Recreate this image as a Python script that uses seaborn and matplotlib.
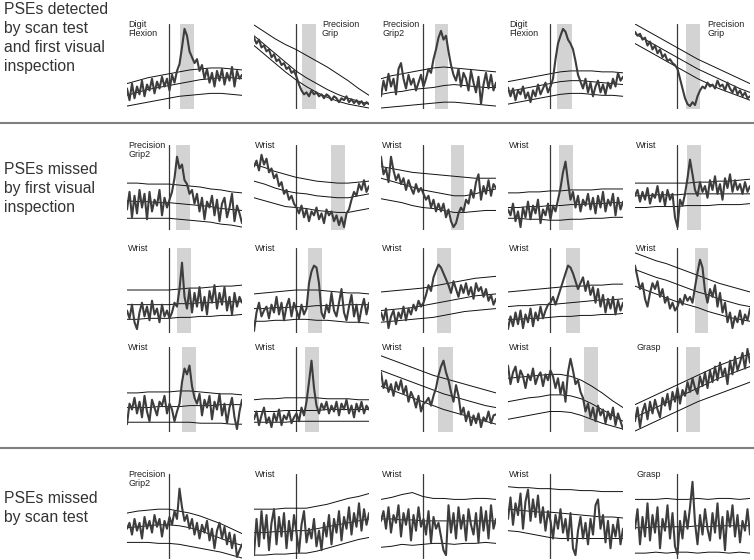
import numpy as np
import matplotlib.pyplot as plt
import seaborn as sns
from matplotlib.lines import Line2D

sns.set_style("white")
plt.rcParams['font.family'] = ['Liberation Sans', 'DejaVu Sans']

# sample times (ms, relative to trigger) for the averaged EMG traces and the band lines
t = np.arange(47) * 2.5 - 42
t_bound = np.linspace(-42, 73, 12)

# ---- row 1: PSEs detected by scan test and first visual inspection
row1_labels = ["Digit\nFlexion", "Precision\nGrip", "Precision\nGrip2", "Digit\nFlexion", "Precision\nGrip"]
row1_windows = [(11, 25), (6, 20), (12, 25), (7, 22), (9, 23)]
row1_trace = [
    [20, 8, 25, 10, 22, 14, 28, 12, 24, 18, 30, 15, 27, 20, 32, 22, 30, 18, 34, 26, 38, 45, 62, 81, 74, 58, 52, 46, 50, 38, 44, 30, 40, 26, 36, 22, 38, 28, 40, 24, 36, 28, 42, 22, 38, 30, 34],
    [72, 66, 70, 62, 64, 58, 60, 52, 55, 48, 50, 44, 46, 40, 42, 36, 38, 32, 24, 18, 14, 16, 12, 18, 14, 16, 12, 14, 10, 14, 12, 8, 12, 10, 6, 10, 8, 12, 6, 9, 5, 8, 4, 7, 3, 6, 4],
    [12, 28, 18, 35, 22, 30, 14, 40, 46, 30, 20, 34, 24, 30, 18, 26, 34, 22, 30, 40, 36, 50, 60, 72, 79, 70, 74, 58, 44, 34, 28, 40, 22, 36, 30, 18, 38, 26, 16, 32, 4, 24, 36, 20, 34, 18, 26],
    [21, 12, 20, 8, 18, 14, 22, 10, 16, 6, 18, 12, 24, 14, 20, 26, 16, 22, 30, 50, 66, 74, 81, 78, 70, 66, 60, 48, 34, 27, 20, 30, 16, 26, 12, 22, 28, 16, 24, 14, 26, 20, 30, 22, 36, 28, 32],
    [78, 74, 76, 70, 72, 64, 68, 60, 64, 56, 60, 52, 55, 48, 50, 46, 44, 40, 30, 20, 10, 4, 2, 6, 3, 12, 18, 22, 20, 26, 22, 24, 20, 28, 22, 24, 18, 26, 20, 16, 22, 14, 18, 12, 16, 10, 12],
]
row1_upper = [[25, 28, 31, 33, 35, 37, 39, 40, 41, 41, 40, 39], [85, 78, 71, 65, 60, 54, 48, 42, 35, 28, 20, 13],
              [30, 33, 35, 37, 39, 41, 42, 41, 40, 39, 38, 37], [27, 29, 31, 33, 35, 37, 38, 38, 38, 37, 37, 36],
              [86, 80, 74, 68, 62, 56, 50, 45, 40, 35, 30, 25]]
row1_mid = [[13, 16, 19, 21, 23, 25, 27, 29, 30, 31, 31, 30], [74, 65, 56, 47, 38, 31, 25, 19, 14, 10, 7, 4],
            [14, 16, 17, 19, 20, 21, 23, 24, 23, 22, 21, 21], [17, 19, 21, 23, 25, 27, 28, 28, 27, 26, 25, 24],
            [76, 70, 64, 58, 52, 46, 40, 35, 30, 25, 20, 16]]
row1_lower = [[2, 4, 6, 8, 10, 12, 13, 14, 15, 15, 14, 13], [64, 55, 46, 37, 29, 22, 16, 11, 7, 4, 2, 0],
              [0, 1, 2, 3, 4, 5, 6, 6, 5, 4, 3, 2], [4, 6, 8, 10, 12, 14, 15, 15, 14, 13, 13, 12],
              [66, 60, 54, 48, 42, 36, 30, 25, 20, 16, 12, 8]]

# ---- rows 2-4: PSEs missed by first visual inspection
row2_labels = ["Precision\nGrip2", "Wrist", "Wrist", "Wrist", "Wrist"]
row2_windows = [(7, 21), (35, 49), (28, 41), (9, 23), (10, 24)]
row2_trace = [
    [20, 38, 12, 34, 16, 40, 22, 36, 10, 38, 18, 30, 24, 40, 14, 32, 22, 30, 38, 52, 74, 62, 66, 50, 46, 36, 40, 26, 36, 18, 32, 10, 28, 22, 34, 14, 30, 8, 26, 32, 12, 22, 36, 8, 24, 16, 6],
    [64, 70, 60, 76, 66, 72, 58, 62, 52, 56, 44, 48, 36, 40, 30, 34, 26, 22, 16, 24, 12, 20, 8, 18, 14, 22, 10, 16, 6, 20, 14, 18, 8, 14, 4, 12, 2, 16, 20, 30, 38, 34, 46, 40, 50, 38, 44],
    [74, 56, 62, 48, 74, 60, 50, 56, 46, 52, 40, 50, 42, 36, 46, 38, 42, 36, 30, 34, 22, 30, 18, 26, 18, 26, 12, 20, 8, 2, 6, 16, 22, 18, 30, 26, 40, 32, 48, 56, 30, 44, 36, 50, 34, 46, 42],
    [20, 14, 26, 8, 18, 2, 22, 12, 28, 10, 24, 16, 30, 6, 20, 14, 26, 10, 24, 18, 30, 42, 58, 69, 48, 30, 38, 22, 34, 18, 30, 24, 36, 20, 32, 16, 34, 22, 38, 18, 30, 24, 36, 14, 32, 20, 28],
    [34, 40, 28, 38, 30, 42, 26, 36, 32, 44, 28, 38, 24, 40, 30, 36, 12, 2, 30, 24, 36, 52, 71, 56, 40, 34, 48, 38, 44, 32, 50, 40, 54, 36, 46, 30, 52, 42, 56, 38, 50, 40, 46, 36, 48, 38, 44],
]
row2_upper = [[47, 47, 46, 46, 46, 45, 44, 43, 41, 40, 38, 37], [66, 63, 59, 56, 53, 51, 49, 48, 47, 47, 48, 49],
              [64, 62, 60, 58, 57, 56, 55, 54, 53, 52, 52, 52], [37, 37, 38, 38, 39, 39, 40, 40, 40, 41, 41, 41],
              [47, 47, 47, 47, 47, 47, 48, 48, 49, 49, 50, 51]]
row2_mid = [[29, 28, 28, 27, 27, 26, 25, 24, 23, 21, 20, 19], [49, 46, 42, 39, 37, 36, 34, 33, 32, 32, 34, 36],
            [52, 49, 46, 43, 40, 38, 36, 34, 34, 36, 39, 41], [22, 22, 23, 23, 24, 24, 25, 25, 26, 26, 27, 27],
            [34, 34, 35, 35, 35, 36, 36, 36, 36, 36, 36, 36]]
row2_lower = [[11, 11, 11, 11, 11, 10, 9, 8, 7, 5, 4, 2], [32, 29, 26, 23, 22, 21, 19, 18, 17, 17, 19, 21],
              [31, 29, 27, 24, 22, 21, 19, 17, 17, 18, 19, 19], [11, 11, 10, 10, 9, 9, 10, 10, 11, 11, 12, 12],
              [22, 22, 23, 23, 23, 24, 24, 24, 25, 25, 25, 26]]

row3_labels = ["Wrist", "Wrist", "Wrist", "Wrist", "Wrist"]
row3_windows = [(8, 22), (12, 26), (14, 28), (16, 30), (18, 31)]
row3_trace = [
    [22, 14, 28, 10, 3, 20, 30, 16, 26, 12, 32, 18, 24, 10, 28, 16, 22, 14, 20, 30, 26, 44, 71, 36, 24, 44, 20, 40, 26, 46, 22, 36, 18, 42, 30, 48, 24, 40, 28, 46, 22, 36, 18, 40, 26, 36, 30],
    [1, 20, 30, 16, 22, 26, 14, 28, 20, 36, 18, 30, 12, 26, 34, 16, 30, 22, 14, 28, 18, 24, 50, 62, 68, 66, 50, 20, 14, 28, 20, 40, 22, 16, 30, 44, 20, 12, 26, 38, 16, 28, 10, 24, 34, 18, 30],
    [20, 12, 24, 4, 16, 22, 8, 20, 14, 26, 12, 24, 18, 28, 22, 32, 26, 30, 38, 48, 42, 56, 63, 69, 66, 60, 54, 48, 40, 52, 44, 36, 48, 40, 50, 38, 46, 34, 50, 42, 46, 36, 44, 32, 38, 28, 34],
    [3, 16, 6, 20, 8, 22, 4, 18, 10, 24, 6, 20, 12, 26, 14, 22, 28, 30, 36, 28, 36, 44, 52, 60, 68, 66, 60, 52, 44, 50, 56, 42, 52, 38, 46, 30, 44, 26, 38, 20, 34, 24, 36, 18, 32, 22, 30],
    [68, 56, 44, 50, 34, 26, 40, 50, 44, 52, 36, 44, 30, 36, 24, 30, 22, 26, 34, 28, 38, 32, 36, 30, 46, 61, 74, 66, 42, 30, 44, 36, 48, 26, 40, 20, 30, 10, 20, 4, 16, 10, 22, 8, 18, 12, 24],
]
row3_upper = [[43, 43, 43, 43, 43, 44, 45, 45, 46, 47, 47, 48], [39, 40, 41, 42, 43, 43, 43, 42, 41, 40, 40, 39],
              [41, 42, 43, 44, 45, 47, 49, 51, 53, 55, 56, 57], [41, 42, 43, 44, 45, 46, 47, 47, 48, 48, 49, 49],
              [81, 77, 73, 70, 66, 62, 58, 54, 50, 47, 44, 41]]
row3_mid = [[28, 28, 28, 28, 28, 29, 29, 30, 30, 31, 31, 31], [24, 24, 25, 25, 26, 26, 27, 27, 27, 28, 28, 28],
            [22, 23, 24, 25, 27, 29, 31, 33, 35, 37, 38, 39], [26, 27, 27, 28, 28, 29, 30, 31, 32, 33, 33, 34],
            [64, 60, 56, 53, 49, 45, 41, 38, 34, 31, 28, 26]]
row3_lower = [[13, 13, 14, 14, 14, 15, 15, 16, 16, 17, 17, 18], [11, 11, 12, 12, 13, 13, 12, 12, 11, 10, 10, 9],
              [10, 11, 12, 13, 14, 15, 17, 19, 21, 22, 23, 24], [13, 13, 14, 14, 15, 16, 16, 17, 17, 18, 18, 19],
              [47, 43, 39, 35, 31, 28, 25, 21, 18, 15, 13, 11]]

row4_labels = ["Wrist", "Wrist", "Wrist", "Wrist", "Grasp"]
row4_windows = [(13, 27), (9, 23), (15, 30), (34, 48), (9, 23)]
row4_trace = [
    [7, 28, 22, 34, 18, 30, 14, 36, 20, 10, 32, 24, 16, 30, 26, 36, 18, 28, 22, 10, 20, 28, 50, 64, 58, 67, 46, 34, 28, 38, 16, 32, 24, 36, 12, 30, 22, 38, 16, 28, 8, 24, 34, 14, 2, 20, 32],
    [12, 20, 6, 16, 24, 8, 14, 4, 18, 10, 22, 6, 16, 12, 20, 8, 14, 18, 10, 24, 16, 30, 50, 72, 44, 26, 18, 28, 22, 30, 18, 26, 20, 30, 16, 28, 22, 32, 18, 26, 14, 28, 20, 30, 18, 26, 22],
    [60, 44, 52, 40, 48, 36, 50, 42, 52, 38, 46, 30, 40, 34, 24, 36, 20, 28, 30, 34, 26, 36, 44, 57, 66, 72, 60, 52, 40, 30, 47, 36, 17, 24, 10, 20, 6, 16, 8, 18, 4, 14, 10, 20, 8, 16, 17],
    [67, 48, 60, 66, 50, 62, 56, 44, 58, 52, 64, 48, 56, 60, 46, 58, 52, 62, 56, 44, 54, 38, 50, 30, 60, 74, 62, 48, 52, 40, 34, 20, 28, 14, 24, 10, 26, 16, 22, 8, 20, 12, 24, 6, 18, 10, 2],
    [10, 24, 4, 20, 28, 12, 30, 18, 32, 22, 14, 34, 26, 38, 22, 40, 30, 44, 28, 42, 36, 50, 40, 54, 44, 38, 56, 46, 60, 44, 62, 50, 66, 52, 70, 56, 64, 48, 72, 58, 76, 62, 70, 80, 64, 84, 70],
]
row4_upper = [[39, 39, 40, 40, 40, 41, 41, 40, 39, 38, 38, 37], [32, 33, 33, 34, 34, 34, 34, 33, 33, 33, 32, 32],
              [77, 73, 69, 65, 61, 57, 54, 51, 48, 45, 42, 39], [54, 55, 56, 57, 58, 58, 56, 52, 46, 39, 31, 24],
              [27, 32, 37, 42, 47, 52, 57, 62, 67, 71, 75, 79]]
row4_mid = [[24, 24, 24, 25, 25, 25, 26, 26, 26, 27, 27, 27], [20, 20, 20, 21, 21, 21, 21, 22, 22, 22, 22, 22],
            [62, 58, 54, 50, 46, 42, 38, 35, 32, 29, 26, 24], [30, 32, 34, 35, 37, 37, 36, 33, 28, 22, 16, 10],
            [14, 19, 24, 29, 34, 39, 44, 49, 54, 58, 62, 66]]
row4_lower = [[9, 9, 9, 9, 9, 9, 9, 8, 8, 8, 7, 7], [9, 9, 9, 9, 10, 10, 10, 10, 10, 10, 10, 10],
              [46, 42, 38, 34, 30, 26, 22, 19, 16, 13, 10, 7], [12, 14, 16, 18, 20, 20, 19, 16, 12, 8, 5, 2],
              [0, 5, 10, 15, 20, 25, 30, 34, 38, 42, 46, 50]]

# ---- row 5: PSEs missed by scan test (no window marked)
row5_labels = ["Precision\nGrip2", "Wrist", "Wrist", "Wrist", "Grasp"]
row5_windows = [None, None, None, None, None]
row5_trace = [
    [30, 36, 24, 40, 28, 36, 20, 42, 30, 38, 26, 44, 32, 40, 22, 38, 30, 42, 34, 48, 40, 71, 52, 38, 44, 30, 40, 24, 36, 20, 34, 26, 38, 18, 30, 10, 28, 36, 20, 32, 14, 26, 10, 24, 1, 8, 14],
    [3, 40, 12, 48, 20, 44, 8, 36, 50, 14, 42, 22, 46, 10, 38, 18, 44, 26, 6, 34, 48, 16, 30, 20, 40, 12, 28, 8, 36, 22, 44, 14, 40, 26, 48, 18, 42, 30, 52, 24, 46, 32, 56, 28, 50, 34, 46],
    [38, 48, 30, 52, 26, 44, 36, 54, 22, 46, 34, 50, 18, 44, 28, 52, 32, 40, 24, 48, 16, 42, 30, 36, 22, 8, 3, 54, 26, 46, 20, 52, 30, 44, 18, 50, 34, 24, 46, 16, 52, 28, 48, 20, 54, 30, 40],
    [40, 62, 34, 56, 44, 66, 30, 58, 70, 38, 60, 42, 64, 36, 52, 28, 48, 38, 20, 44, 30, 50, 26, 40, 18, 46, 10, 3, 28, 42, 20, 36, 14, 40, 24, 54, 60, 30, 44, 16, 38, 10, 34, 22, 40, 14, 30],
    [30, 50, 14, 42, 22, 56, 18, 44, 26, 52, 10, 40, 28, 54, 20, 46, 12, 4, 38, 20, 48, 30, 52, 78, 36, 14, 44, 24, 50, 30, 18, 46, 26, 56, 20, 42, 8, 48, 32, 54, 22, 44, 16, 38, 28, 50, 24],
]
row5_upper = [[46, 48, 49, 50, 50, 48, 46, 43, 39, 35, 30, 25], [50, 50, 50, 51, 51, 51, 53, 55, 58, 61, 63, 66],
              [60, 62, 65, 67, 63, 61, 61, 60, 60, 61, 61, 60], [73, 72, 72, 71, 71, 70, 70, 69, 69, 68, 68, 68],
              [60, 60, 60, 61, 60, 60, 61, 60, 61, 61, 60, 61]]
row5_mid = [[31, 32, 33, 34, 34, 33, 31, 28, 24, 20, 16, 13], [26, 26, 27, 27, 28, 28, 30, 32, 34, 36, 38, 40],
            [40, 40, 39, 39, 38, 38, 38, 38, 38, 38, 38, 38], [50, 49, 48, 47, 47, 46, 45, 44, 43, 42, 42, 41],
            [31, 31, 32, 32, 32, 32, 33, 32, 33, 33, 33, 33]]
row5_lower = [[16, 16, 16, 15, 15, 14, 12, 10, 8, 6, 3, 0], [3, 3, 4, 4, 5, 5, 7, 10, 13, 16, 19, 21],
              [11, 12, 14, 13, 14, 15, 15, 14, 15, 15, 16, 15], [28, 27, 25, 23, 21, 20, 20, 20, 20, 20, 20, 20],
              [5, 5, 6, 5, 6, 6, 5, 6, 6, 5, 6, 5]]

section_titles = ["PSEs detected\nby scan test\nand first visual\ninspection",
                  "PSEs missed\nby first visual\ninspection",
                  "PSEs missed\nby scan test"]

rows = [
    (row1_trace, row1_upper, row1_mid, row1_lower, row1_windows, row1_labels),
    (row2_trace, row2_upper, row2_mid, row2_lower, row2_windows, row2_labels),
    (row3_trace, row3_upper, row3_mid, row3_lower, row3_windows, row3_labels),
    (row4_trace, row4_upper, row4_mid, row4_lower, row4_windows, row4_labels),
    (row5_trace, row5_upper, row5_mid, row5_lower, row5_windows, row5_labels),
]

W, H = 754, 560
fig = plt.figure(figsize=(W / 100, H / 100), dpi=100)

row_tops = [24, 145, 248, 347, 474]   # px from top
panel_h, panel_w = 85, 115
# labels that sit to the right of the trigger line
right_labels = {(0, 1): 0.59, (0, 4): 0.63}

for r, (traces, ups, mids, lows, wins, labs) in enumerate(rows):
    for c in range(5):
        left = 127 + 127 * c
        ax = fig.add_axes([left / W, 1 - (row_tops[r] + panel_h) / H, panel_w / W, panel_h / H])
        if wins[c] is not None:
            ax.axvspan(wins[c][0], wins[c][1], color='#d3d3d3', lw=0, zorder=0)
        ax.axvline(0, color='#3a3a3a', lw=0.9, zorder=1)
        for band in (ups[c], mids[c], lows[c]):
            sns.lineplot(x=t_bound, y=band, ax=ax, color='#111111', linewidth=0.7, zorder=2)
        sns.lineplot(x=t, y=traces[c], ax=ax, color='#3d3d3d', linewidth=1.5, zorder=3)
        ax.set_xlim(-42, 73)
        ax.set_ylim(-1, 86)
        ax.axis('off')
        ax.text(right_labels.get((r, c), 0.01), 1.05, labs[c], transform=ax.transAxes,
                ha='left', va='top', fontsize=6.5, color='#222222', linespacing=1.1)

# section captions
caption_tops = [2, 162, 491]
for title, top in zip(section_titles, caption_tops):
    fig.text(4 / W, 1 - top / H, title, fontsize=11.3, va='top', ha='left',
             color='#333333', linespacing=1.32)

# separators between sections
for y in (123, 448):
    fig.add_artist(Line2D([0, 1], [1 - y / H, 1 - y / H], transform=fig.transFigure,
                          color='#808080', lw=1.5))

fig.savefig('out.png', dpi=100)
